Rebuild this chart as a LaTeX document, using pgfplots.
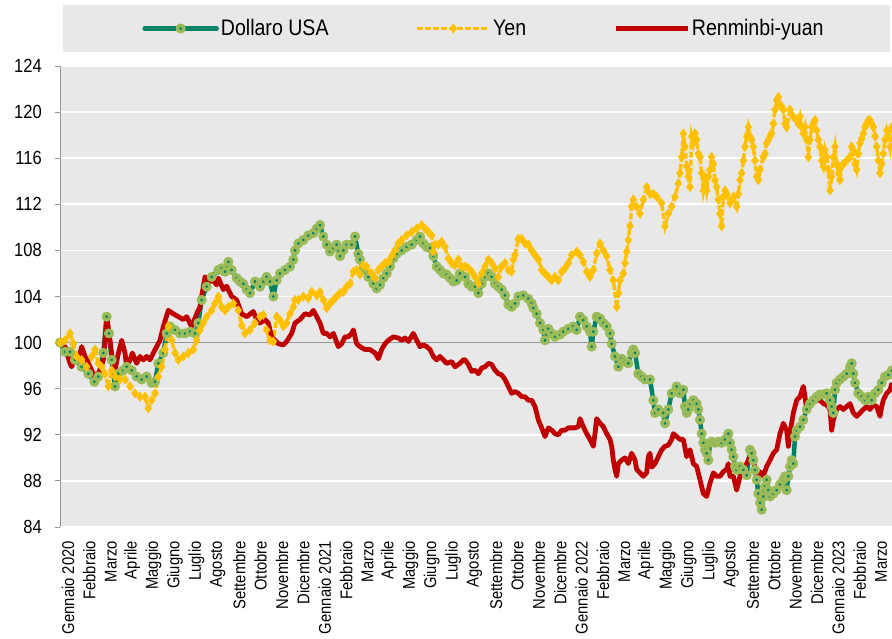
\documentclass[border=0pt]{standalone}
\usepackage{fontspec}
\setmainfont{Liberation Sans}[FakeStretch=0.87]
\usepackage{pgfplots}
\pgfplotsset{compat=1.18}
\usepackage{pgfplotstable}
\usetikzlibrary{backgrounds}
\definecolor{plotgray}{RGB}{232,232,232}
\definecolor{usd}{RGB}{0,130,100}
\definecolor{usdmark}{RGB}{155,187,89}
\definecolor{yen}{RGB}{255,192,0}
\definecolor{cny}{RGB}{192,0,0}
\definecolor{axgray}{RGB}{150,150,150}

% t: time index (64.2 units per month, 0 = start of January 2020)
\pgfplotstableread{
t v
0 100.0
15 99.2
30 99.2
45 98.5
65 97.9
85 97.3
103 96.6
115 97.05
130 99.1
140 102.25
147 100.8
155 98.5
165 96.2
175 97.3
190 97.6
200 97.9
215 97.6
230 97.05
245 96.8
260 97.05
275 96.5
285 96.6
295 98.2
310 99.1
320 100.8
330 101.4
345 101.1
360 100.8
375 100.8
390 100.95
405 100.8
415 101.7
425 103.7
440 104.85
455 105.7
475 106.3
485 106.45
495 106.15
505 107.0
515 106.3
530 105.6
540 105.3
550 105.1
560 104.6
570 104.3
585 105.3
600 104.85
610 105.3
620 105.7
630 105.3
640 104.0
650 105.4
660 106.0
675 106.3
690 106.6
700 107.2
705 108.0
715 108.6
730 108.9
745 109.3
760 109.5
770 109.9
780 110.2
790 109.2
800 108.5
810 107.9
820 108.2
830 108.5
840 107.5
850 108.0
860 108.5
875 108.5
885 109.2
895 107.7
900 107.2
910 106.4
925 105.7
940 105.1
950 104.7
960 105.0
970 105.6
980 106.0
990 106.6
1000 107.3
1010 107.7
1025 108.0
1040 108.3
1055 108.5
1070 108.9
1080 109.2
1090 108.6
1100 108.3
1110 108.2
1120 107.5
1130 106.6
1140 106.3
1150 106.0
1160 105.9
1170 105.6
1180 105.3
1190 105.4
1200 106.0
1215 105.7
1225 105.1
1235 104.85
1245 104.85
1255 104.3
1265 105.1
1275 105.7
1285 106.0
1295 105.7
1305 105.1
1315 104.85
1325 104.6
1335 104.1
1345 103.3
1355 103.1
1365 103.4
1375 104.0
1390 104.1
1405 103.8
1415 103.4
1420 103.0
1430 102.5
1440 101.7
1450 101.1
1455 100.2
1465 101.2
1475 100.8
1485 100.5
1500 100.7
1510 100.95
1525 101.2
1540 101.4
1550 101.1
1560 102.25
1570 101.95
1580 101.4
1590 100.95
1595 99.65
1600 100.95
1610 102.25
1620 102.1
1630 101.7
1640 101.4
1650 100.8
1655 99.9
1665 98.8
1675 97.9
1685 98.6
1695 98.35
1705 98.2
1715 99.1
1720 99.4
1725 99.1
1735 97.3
1745 97.05
1755 96.8
1770 96.8
1780 95.0
1785 93.9
1795 94.2
1810 93.9
1815 93.0
1825 94.2
1835 95.6
1850 96.2
1860 95.6
1870 95.9
1875 94.45
1880 93.9
1885 94.2
1890 94.7
1900 95.0
1910 94.7
1915 94.2
1920 93.3
1925 92.1
1930 91.3
1935 90.7
1940 90.4
1945 89.8
1950 91.3
1955 91.4
1965 91.3
1975 91.4
1985 91.3
1995 91.6
2005 92.1
2010 91.3
2015 90.7
2020 90.1
2025 89.25
2030 88.95
2040 89.25
2050 88.95
2060 88.5
2070 90.7
2075 90.4
2080 89.8
2085 88.95
2090 88.1
2095 86.9
2100 86.1
2105 85.5
2110 86.65
2115 87.5
2120 88.1
2125 87.2
2130 86.65
2140 86.9
2150 87.2
2160 87.7
2170 88.1
2175 88.4
2180 87.2
2185 88.4
2190 89.25
2195 89.8
2200 89.5
2205 91.85
2210 92.4
2220 92.7
2230 93.3
2240 94.2
2250 94.7
2260 95.0
2270 95.3
2280 95.5
2290 95.5
2300 95.6
2310 95.0
2315 94.45
2320 93.9
2325 95.9
2330 96.5
2340 96.8
2350 97.05
2360 97.3
2370 97.9
2375 98.2
2380 97.3
2385 96.5
2395 95.6
2405 95.3
2415 95.0
2425 95.3
2435 95.0
2445 95.6
2455 95.9
2465 96.5
2475 97.05
2485 97.2
2496 97.6
}\usdtab

\pgfplotstableread{
t v
0 100.0
15 100.2
30 100.8
40 99.9
50 98.8
65 98.5
80 97.9
95 98.8
105 99.4
115 98.2
125 97.9
135 97.3
145 96.2
155 97.6
165 97.05
180 96.8
195 96.8
210 96.2
225 95.6
240 95.3
255 95.3
265 94.3
275 95.0
285 95.6
295 97.05
305 97.9
315 99.4
325 101.4
335 100.2
345 99.1
355 98.5
370 98.8
385 99.1
400 99.4
410 100.2
420 101.1
430 101.7
440 102.25
455 102.8
465 103.4
475 104.0
485 103.1
495 102.8
505 103.1
520 103.4
535 102.8
545 101.5
555 100.8
570 101.1
585 101.7
600 102.25
610 102.4
620 101.1
630 100.2
640 100.1
650 102.25
660 101.95
670 101.4
680 101.7
690 102.5
700 103.1
705 103.7
715 103.7
730 104.0
745 103.85
755 104.4
770 104.1
780 104.4
790 103.7
800 103.0
810 103.4
820 103.7
830 104.0
840 104.3
850 104.4
860 104.85
870 105.1
880 106.15
890 106.3
900 105.9
910 106.7
920 106.6
935 106.0
945 105.6
955 106.3
965 106.6
975 106.9
985 107.0
995 107.5
1005 108.0
1015 108.6
1025 108.9
1040 109.3
1055 109.6
1070 109.9
1085 110.2
1095 109.9
1105 109.6
1115 109.3
1120 107.9
1125 108.5
1135 108.5
1145 108.75
1155 108.3
1165 107.3
1175 106.9
1185 106.7
1195 107.2
1205 106.6
1215 106.6
1225 106.45
1235 106.15
1245 105.7
1255 105.1
1265 106.0
1275 106.6
1285 107.2
1295 106.9
1305 106.45
1315 105.7
1325 106.6
1335 106.9
1345 106.3
1355 106.15
1360 107.2
1365 107.6
1375 109.0
1385 109.0
1395 108.6
1405 108.5
1415 108.0
1425 107.6
1435 107.2
1445 106.3
1455 106.0
1465 105.7
1475 105.4
1485 105.7
1495 105.4
1505 106.15
1515 106.45
1525 106.9
1535 107.6
1550 107.9
1560 107.6
1570 107.0
1580 106.15
1590 105.7
1600 106.3
1610 107.75
1620 108.6
1630 108.0
1640 107.5
1650 106.3
1660 105.4
1670 103.1
1675 104.3
1680 105.4
1690 106.0
1695 106.9
1700 107.9
1705 108.9
1710 110.1
1715 111.8
1720 112.4
1730 111.8
1740 111.2
1750 112.4
1760 113.5
1770 112.9
1780 112.9
1790 112.65
1805 112.1
1815 110.1
1825 111.2
1835 111.8
1845 112.65
1855 113.8
1860 114.7
1865 116.1
1870 118.15
1875 117.0
1880 115.3
1885 114.4
1890 113.5
1895 117.9
1900 117.3
1905 118.15
1910 117.6
1915 116.4
1920 116.1
1925 114.7
1930 113.2
1935 114.1
1940 113.2
1945 114.4
1950 115.0
1955 116.1
1960 115.5
1965 114.1
1970 113.5
1975 112.4
1980 111.2
1985 110.1
1990 112.65
1995 113.2
2000 112.9
2010 112.1
2020 112.65
2030 111.8
2035 112.9
2040 114.1
2045 114.7
2050 115.8
2055 117.0
2060 117.9
2065 118.7
2070 117.9
2075 117.6
2080 117.0
2085 115.8
2090 114.4
2095 114.1
2100 115.0
2110 116.1
2115 116.4
2120 117.3
2125 117.6
2130 117.9
2135 118.15
2140 119.0
2145 120.2
2150 121.0
2155 121.3
2160 120.6
2165 120.5
2170 120.2
2175 119.0
2180 118.7
2190 120.2
2200 119.6
2210 119.3
2215 119.0
2220 119.6
2225 118.7
2230 118.15
2235 118.7
2240 117.6
2245 116.1
2250 117.6
2255 118.7
2260 119.0
2265 119.3
2270 118.4
2275 117.6
2280 117.0
2285 115.8
2290 115.3
2295 116.7
2300 116.1
2305 115.0
2310 113.2
2315 114.4
2320 116.1
2325 117.0
2330 115.5
2335 114.7
2340 114.1
2345 115.3
2350 115.5
2360 115.8
2370 116.1
2375 117.0
2380 116.7
2385 115.5
2390 115.0
2395 116.4
2400 117.3
2405 117.7
2410 118.15
2415 118.7
2420 119.0
2425 119.3
2430 119.3
2435 119.0
2440 118.7
2445 117.9
2450 117.0
2455 115.8
2460 114.7
2465 115.5
2470 116.4
2475 117.6
2480 118.4
2485 117.9
2490 117.0
2496 118.7
}\yentab

\pgfplotstableread{
t v
0 100.0
15 99.65
30 98.2
35 97.9
45 98.8
55 98.5
65 99.65
75 98.8
85 98.2
100 97.3
105 96.9
120 97.6
130 98.5
135 100.2
140 102.25
150 100.2
157 98.5
163 97.3
173 98.8
185 100.2
195 99.1
200 97.9
210 98.5
217 99.1
230 98.2
240 98.8
250 98.5
260 98.8
270 98.5
280 99.1
290 99.65
300 100.2
310 101.4
325 102.8
340 102.5
355 102.25
370 102.0
380 102.25
395 101.4
410 102.5
420 103.1
425 104.0
435 105.7
450 105.3
460 105.4
470 105.0
475 105.6
490 104.6
500 104.9
515 104.0
530 103.7
545 102.5
560 102.25
580 102.7
590 102.0
600 101.7
615 102.0
625 101.7
635 100.5
645 100.2
655 99.9
670 99.8
680 100.1
695 100.8
705 101.7
720 102.0
735 102.5
750 102.4
760 102.8
770 102.25
780 101.7
790 100.8
800 100.8
810 100.5
820 100.8
835 99.65
845 99.9
855 100.5
865 100.5
875 100.8
880 101.1
890 99.9
900 99.65
915 99.4
930 99.4
945 99.1
955 98.6
965 99.4
975 99.9
985 100.2
1000 100.5
1015 100.4
1025 100.2
1035 100.4
1045 100.1
1060 100.8
1070 100.2
1080 99.65
1090 99.8
1100 99.65
1110 99.4
1120 98.8
1130 98.5
1140 98.8
1150 98.5
1160 98.2
1175 98.35
1185 97.9
1200 98.2
1210 98.5
1215 98.5
1225 98.1
1235 97.5
1245 97.6
1255 97.3
1265 97.8
1275 97.9
1285 98.2
1295 98.1
1305 97.6
1315 97.3
1325 97.2
1335 96.8
1345 96.2
1355 95.6
1365 95.75
1375 95.6
1385 95.3
1395 95.3
1405 95.0
1415 95.0
1425 94.45
1435 93.3
1445 92.6
1455 91.85
1465 92.6
1475 92.4
1485 92.1
1495 92.0
1505 92.4
1515 92.4
1525 92.6
1535 92.6
1545 92.6
1555 92.7
1560 93.4
1570 92.7
1580 92.1
1590 91.6
1600 91.0
1605 92.1
1610 93.4
1620 93.0
1630 92.7
1640 92.1
1650 91.6
1655 91.0
1660 89.8
1665 89.0
1670 88.4
1675 89.5
1685 89.8
1695 90.0
1705 89.5
1715 90.4
1725 89.8
1730 89.0
1740 88.7
1750 88.4
1760 88.7
1765 90.1
1770 90.4
1775 89.2
1785 89.5
1795 90.1
1805 90.7
1815 91.0
1825 91.1
1835 91.6
1840 92.1
1850 91.85
1860 91.6
1870 91.6
1880 90.1
1885 90.4
1890 90.7
1900 89.5
1910 89.25
1920 88.1
1930 86.9
1940 86.65
1950 87.8
1960 88.7
1970 88.4
1980 88.4
1990 88.8
2000 89.0
2005 89.5
2010 88.4
2020 88.4
2030 87.2
2040 88.4
2050 89.0
2060 89.5
2070 90.1
2080 89.8
2090 88.4
2100 88.8
2110 88.4
2120 89.25
2130 89.8
2140 90.4
2150 90.7
2160 92.1
2170 93.0
2180 92.4
2185 91.0
2190 92.1
2195 93.0
2200 93.9
2205 94.45
2210 95.0
2220 95.3
2230 96.2
2235 95.3
2240 94.2
2250 94.45
2260 95.0
2270 95.0
2280 95.0
2290 94.7
2300 94.6
2310 94.2
2315 92.4
2320 93.3
2330 94.2
2340 94.45
2350 94.2
2360 94.45
2370 94.7
2380 93.9
2390 93.6
2400 93.9
2410 94.2
2420 94.45
2430 94.2
2440 94.6
2450 94.45
2460 93.6
2465 94.45
2470 95.0
2480 95.6
2490 95.9
2496 96.5
}\cnytab

\begin{document}
\begin{tikzpicture}
\begin{axis}[
  scale only axis, width=832pt, height=461pt,
  xmin=0, xmax=2496, ymin=84, ymax=124,
  ytick={84,88,...,124},
  xtick={24,88.2,...,2470},
  xticklabels={Gennaio 2020,Febbraio,Marzo,Aprile,Maggio,Giugno,Luglio,Agosto,Settembre,Ottobre,Novembre,Dicembre,
    Gennaio 2021,Febbraio,Marzo,Aprile,Maggio,Giugno,Luglio,Agosto,Settembre,Ottobre,Novembre,Dicembre,
    Gennaio 2022,Febbraio,Marzo,Aprile,Maggio,Giugno,Luglio,Agosto,Settembre,Ottobre,Novembre,Dicembre,
    Gennaio 2023,Febbraio,Marzo},
  /pgf/number format/assume math mode=true,
  axis background/.style={fill=plotgray},
  axis lines*=left,
  x axis line style={draw=none},
  y axis line style={axgray, line width=0.9pt},
  ymajorgrids, major grid style={white, line width=1.6pt},
  tick align=outside, major tick length=5pt,
  ytick style={axgray, line width=0.9pt},
  xtick style={draw=none},
  xticklabel style={rotate=90, anchor=east, inner sep=0pt, font=\fontsize{17}{17}\selectfont},
  xticklabel shift=9pt,
  yticklabel style={inner sep=0pt, font=\fontsize{19}{19}\selectfont},
  yticklabel shift=13pt,
  legend columns=3,
  legend style={draw=none, fill=none, at={(rel axis cs:0.5,1)}, anchor=center, yshift=37.5pt, xshift=8pt,
    font=\fontsize{22.5}{24}\selectfont,
    /tikz/every even column/.append style={column sep=85pt}},
  legend image code/.code={\draw[mark repeat=2, mark phase=2, #1] plot coordinates {(0pt,0pt) (36pt,0pt) (72pt,0pt)};},
]
\addplot[axgray, line width=1pt, forget plot] coordinates {(0,100) (2496,100)};
\addplot[usd, line width=4.5pt, line join=round, line cap=round, mark=*, mark size=3.3pt,
  mark options={draw=usdmark, fill=usd, line width=3.4pt, solid}] table[x=t,y=v]{\usdtab};
\addlegendentry{Dollaro USA}
\addplot[yen, line width=3.5pt, dash pattern=on 6pt off 2pt, mark=diamond*, mark size=4.6pt,
  mark options={solid, fill=yen, draw=yen, line width=0.5pt}] table[x=t,y=v]{\yentab};
\addlegendentry{Yen}
\addplot[cny, line width=4.8pt, line join=round] table[x=t,y=v]{\cnytab};
\addlegendentry{Renminbi-yuan}
\end{axis}
\begin{scope}[on background layer]
\fill[plotgray] ([xshift=3pt,yshift=14pt]current axis.north west) rectangle ([xshift=-2pt,yshift=61pt]current axis.north east);
\end{scope}
\pgfresetboundingbox
\path[use as bounding box] ([xshift=-60pt,yshift=-112pt]current axis.south west) rectangle ([yshift=66pt]current axis.north east);
\end{tikzpicture}
\end{document}
